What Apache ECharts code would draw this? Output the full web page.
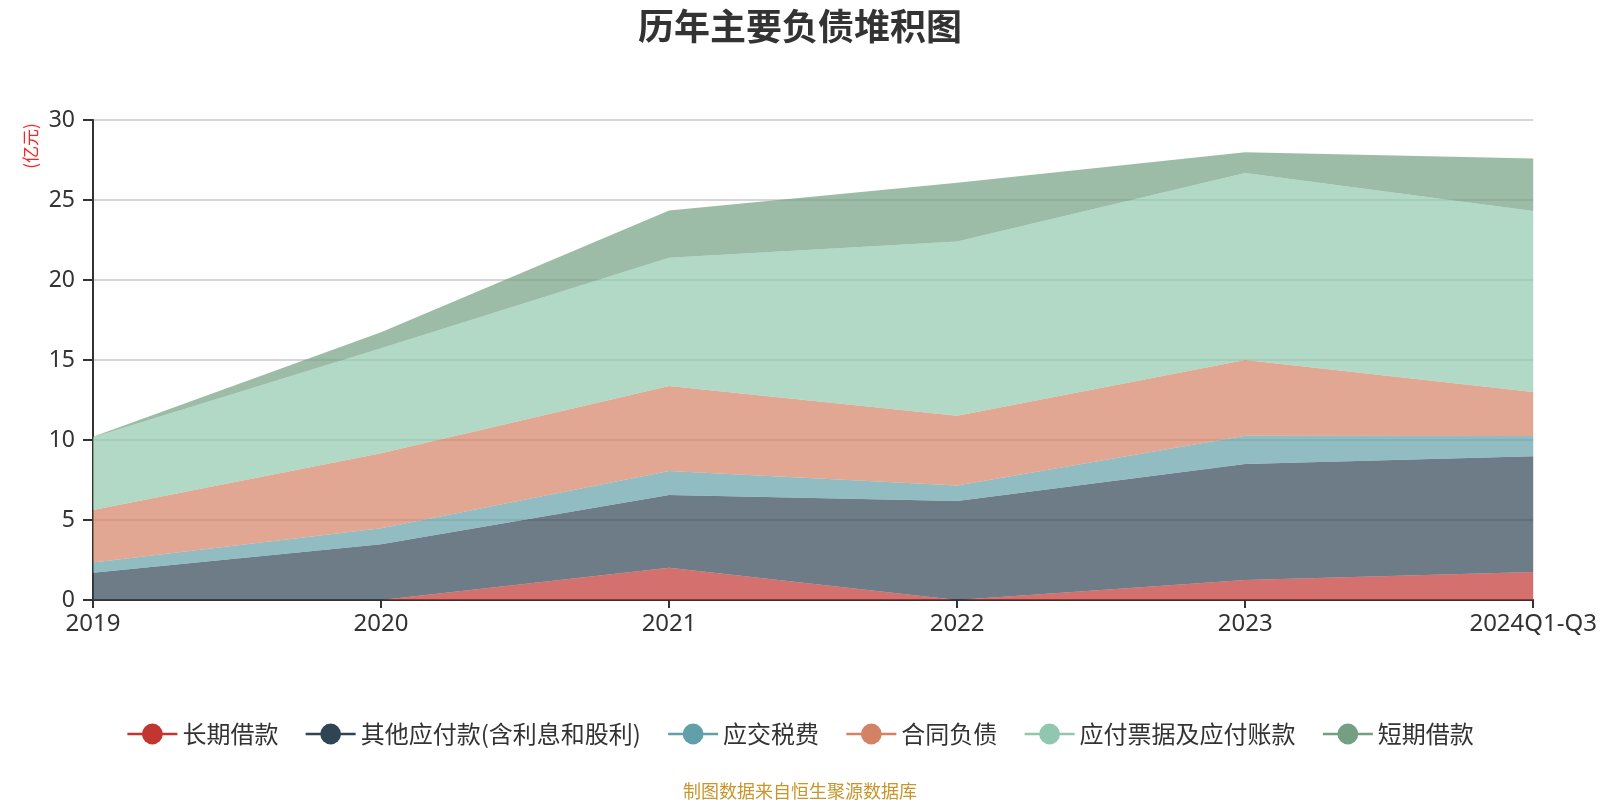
<!DOCTYPE html>
<html>
<head>
<meta charset="utf-8">
<script src="https://cdn.jsdelivr.net/npm/echarts@6/dist/echarts.min.js"></script>
<style>
html,body{margin:0;padding:0;background:#fff;}
#main{width:1600px;height:800px;}
</style>
</head>
<body>
<div id="main"></div>
<script>
var categories = ['2019', '2020', '2021', '2022', '2023', '2024Q1-Q3'];
var seriesNames = ['长期借款', '其他应付款(含利息和股利)', '应交税费', '合同负债', '应付票据及应付账款', '短期借款'];
var longTermLoans = [0, 0, 2.02, 0, 1.25, 1.75];
var otherPayables = [1.71, 3.48, 4.54, 6.19, 7.25, 7.23];
var taxesPayable = [0.64, 1.0, 1.5, 0.96, 1.77, 1.27];
var contractLiabilities = [3.27, 4.69, 5.31, 4.37, 4.73, 2.75];
var notesAndAccountsPayable = [4.55, 6.56, 8.02, 10.88, 11.69, 11.31];
var shortTermLoans = [0.03, 1.0, 2.95, 3.68, 1.29, 3.29];
var yTicks = [0, 5, 10, 15, 20, 25, 30];

var colors = ['#c23531', '#2f4554', '#61a0a8', '#d48265', '#91c7ae', '#749f83'];
var dataList = [longTermLoans, otherPayables, taxesPayable, contractLiabilities, notesAndAccountsPayable, shortTermLoans];

var font = '"Noto Sans", "Noto Sans CJK SC", sans-serif';
var chart = echarts.init(document.getElementById('main'));

var series = dataList.map(function (d, i) {
  return {
    name: seriesNames[i],
    type: 'line',
    stack: 'total',
    data: d,
    symbol: 'circle',
    symbolSize: 22,
    showSymbol: false,
    lineStyle: { width: 0, opacity: 0 },
    areaStyle: { opacity: 0.7 },
    itemStyle: { color: colors[i] },
    emphasis: { disabled: true }
  };
});

chart.setOption({
  animation: false,
  color: colors,
  textStyle: { fontFamily: font },
  title: [{
    text: '历年主要负债堆积图',
    left: 'center',
    top: 3,
    textStyle: { fontSize: 36, fontWeight: 'bold', color: '#333', fontFamily: '"Noto Sans CJK SC", sans-serif' }
  }, {
    text: '制图数据来自恒生聚源数据库',
    left: 'center',
    top: 777,
    textStyle: { fontSize: 18, fontWeight: 'normal', color: '#c8952a', fontFamily: '"Noto Sans CJK SC", sans-serif' }
  }],
  graphic: [{
    type: 'text',
    x: 31,
    y: 146,
    rotation: Math.PI / 2,
    style: {
      text: '(亿元)',
      fill: '#ff2020',
      fontSize: 17,
      fontFamily: '"Noto Sans CJK SC", sans-serif',
      align: 'center',
      verticalAlign: 'middle'
    }
  }],
  legend: {
    data: seriesNames,
    top: 717,
    left: 'center',
    itemWidth: 50,
    itemHeight: 26,
    itemGap: 26,
    lineStyle: { width: 2.5, opacity: 1 },
    textStyle: { fontSize: 24, color: '#333', fontFamily: '"Noto Sans CJK SC", sans-serif' }
  },
  grid: { left: 93, right: 61, top: 120, bottom: 200, containLabel: false },
  xAxis: {
    type: 'category',
    data: categories,
    boundaryGap: false,
    axisLine: { lineStyle: { color: '#333', width: 2 } },
    axisTick: { length: 8, lineStyle: { color: '#333', width: 2 } },
    axisLabel: { fontSize: 24, color: '#333', margin: 12, fontFamily: font }
  },
  yAxis: {
    type: 'value',
    min: yTicks[0],
    max: yTicks[yTicks.length - 1],
    interval: 5,
    axisLine: { show: true, lineStyle: { color: '#333', width: 2 } },
    axisTick: { show: true, length: 10, lineStyle: { color: '#333', width: 2 } },
    axisLabel: { fontSize: 23, color: '#333', margin: 18, fontFamily: font },
    splitLine: { lineStyle: { color: '#c8c8c8', width: 1.5 } }
  },
  series: series
});
</script>
</body>
</html>
